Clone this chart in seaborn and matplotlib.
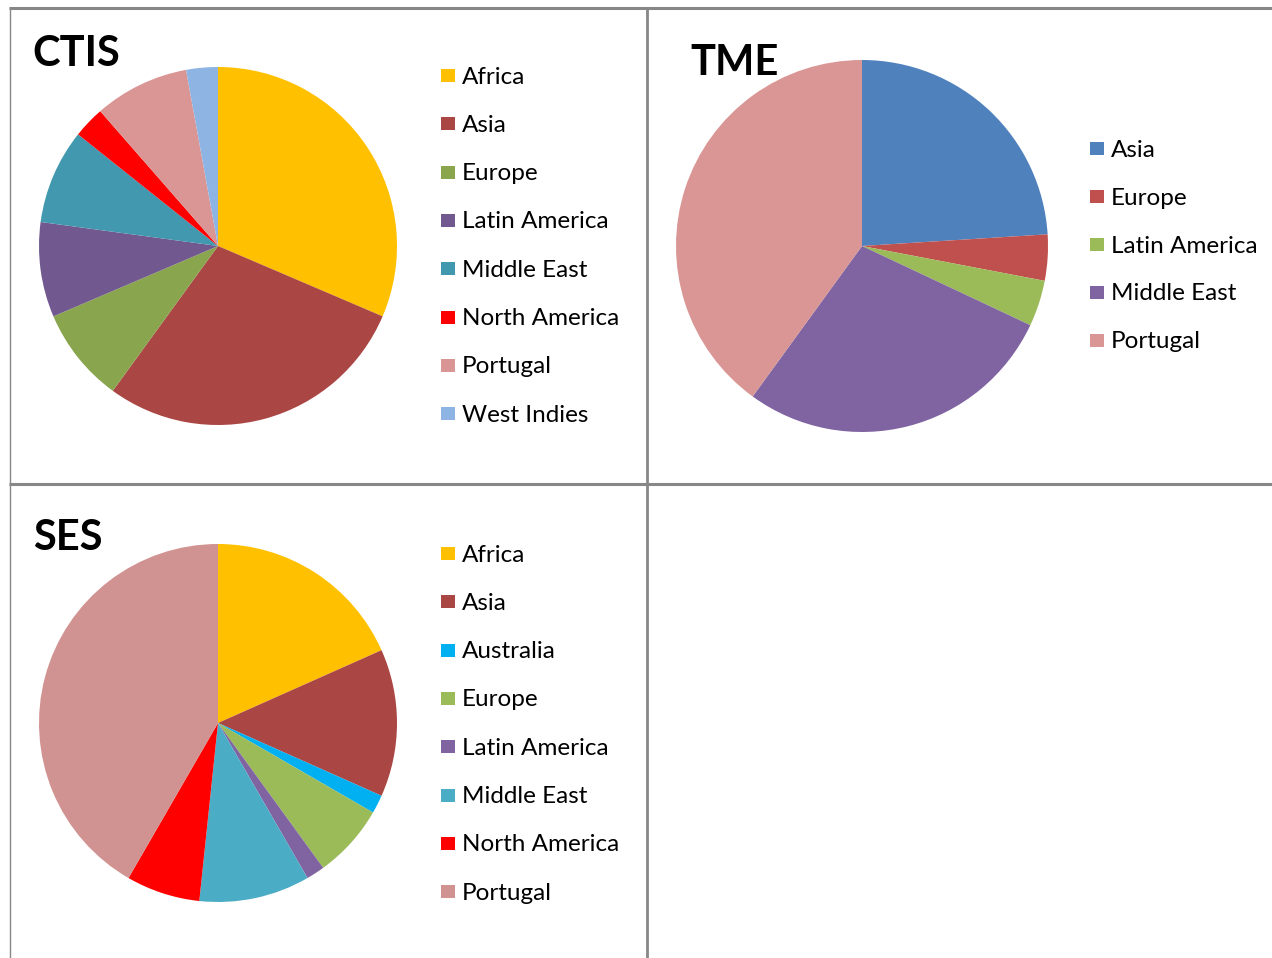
import matplotlib
matplotlib.use("Agg")
import matplotlib.pyplot as plt
import seaborn as sns
from matplotlib.patches import Rectangle

sns.set_theme(style="white")
plt.rcParams['font.family'] = ['Lato', 'DejaVu Sans']

# ---- data (counts) ----
ctis_labels = ["Africa", "Asia", "Europe", "Latin America", "Middle East",
               "North America", "Portugal", "West Indies"]
ctis_values = [11, 10, 3, 3, 3, 1, 3, 1]
ctis_colors = ["#FFC000", "#AA4643", "#89A54E", "#71588F", "#4198AF",
               "#FF0000", "#D99694", "#8EB4E3"]

tme_labels = ["Asia", "Europe", "Latin America", "Middle East", "Portugal"]
tme_values = [6, 1, 1, 7, 10]
tme_colors = ["#4F81BD", "#C0504D", "#9BBB59", "#8064A2", "#D99694"]

ses_labels = ["Africa", "Asia", "Australia", "Europe", "Latin America",
              "Middle East", "North America", "Portugal"]
ses_values = [11, 8, 1, 4, 1, 6, 4, 25]
ses_colors = ["#FFC000", "#AA4643", "#00B0F0", "#9BBB59", "#8064A2",
              "#4BACC6", "#FF0000", "#D19392"]

W, H = 1272, 958
fig = plt.figure(figsize=(W / 100, H / 100), dpi=100)
fig.patch.set_facecolor("white")

# background axes in pixel coordinates
bg = fig.add_axes([0, 0, 1, 1])
bg.set_xlim(0, W)
bg.set_ylim(H, 0)
bg.axis("off")

grid_c = "#878787"
bg.plot([9, W], [7.5, 7.5], color=grid_c, lw=2.2, solid_capstyle="butt")
bg.plot([9, W], [484, 484], color=grid_c, lw=2.2, solid_capstyle="butt")
bg.plot([9.5, 9.5], [7, H], color=grid_c, lw=1.0, solid_capstyle="butt")
bg.plot([647, 647], [7, H], color=grid_c, lw=2.0, solid_capstyle="butt")


def draw_panel(title, title_xy, labels, values, colors, cx, cy, r,
               leg_x, leg_y0, leg_step):
    ax = fig.add_axes([(cx - r) / W, (H - cy - r) / H, 2 * r / W, 2 * r / H])
    ax.pie(values, colors=colors, startangle=90, counterclock=False,
           radius=1.0, wedgeprops=dict(linewidth=0))
    ax.set_xlim(-1, 1)
    ax.set_ylim(-1, 1)
    ax.set_aspect("equal")
    ax.axis("off")
    bg.text(title_xy[0], title_xy[1], title, fontsize=30, fontweight="bold",
            color="black", ha="left", va="baseline")
    for i, (lab, col) in enumerate(zip(labels, colors)):
        y = leg_y0 + i * leg_step
        bg.add_patch(Rectangle((leg_x, y - 7), 14, 13, facecolor=col,
                               edgecolor="none"))
        bg.text(leg_x + 21, y + 1, lab, fontsize=17.5, color="black",
                ha="left", va="center")
    return ax


draw_panel("CTIS", (32, 66), ctis_labels, ctis_values, ctis_colors,
           218, 246, 179, 441, 76, 48.3)
draw_panel("TME", (690, 75), tme_labels, tme_values, tme_colors,
           862, 246, 186, 1090, 149, 48.0)
draw_panel("SES", (33, 550), ses_labels, ses_values, ses_colors,
           218, 723, 179, 441, 554, 48.3)

fig.savefig("out.png", dpi=100, facecolor="white")
